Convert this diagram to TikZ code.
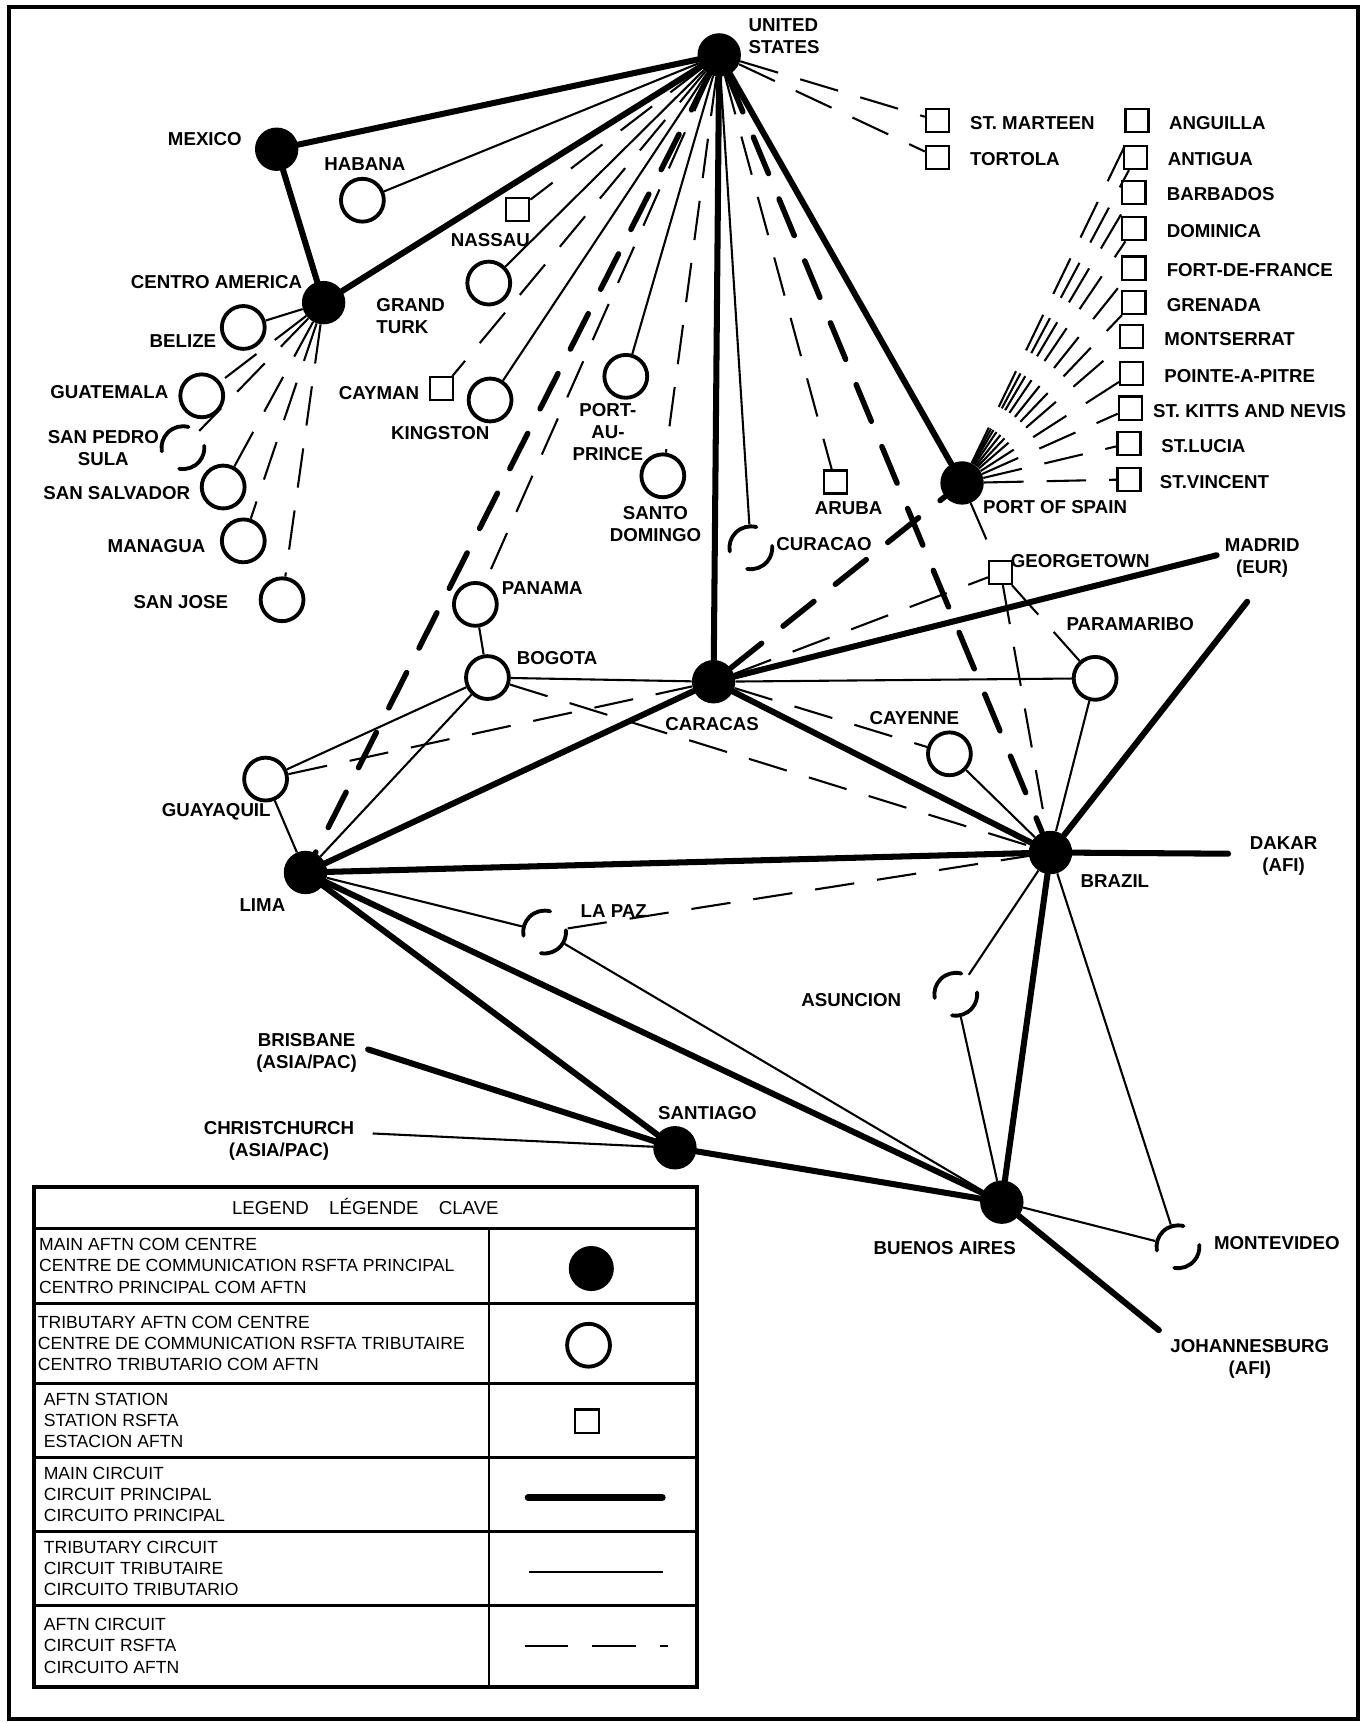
\documentclass[tikz,border=0pt]{standalone}
\usepackage{fontspec}
\setmainfont{Liberation Sans}
\usepackage{tikz}
\usetikzlibrary{calc,positioning}

\begin{document}
\begin{tikzpicture}[x=1pt, y=-1pt, lbl/.style={inner sep=0pt, font=\fontsize{17}{20}\selectfont\bfseries}, key/.style={inner sep=0pt, anchor=west, align=left, font=\fontsize{16}{19.2}\selectfont}]
\tikzstyle{mctr}=[circle, fill, inner sep=0pt, minimum size=39.5pt]
\tikzstyle{tctr}=[circle, draw, line width=3.5pt, inner sep=0pt, minimum size=39pt]
\tikzstyle{pctr}=[circle, inner sep=0pt, outer sep=1.75pt, minimum size=39pt]
\tikzstyle{stn}=[rectangle, draw, line width=2pt, inner sep=0pt, minimum size=21pt]
\tikzstyle{mline}=[line width=5.5pt, line cap=round]
\tikzstyle{tline}=[line width=1.9pt]
\tikzstyle{aline}=[line width=1.9pt, dash pattern=on 36pt off 21pt]
\tikzstyle{maline}=[line width=5pt, line cap=round, dash pattern=on 36pt off 25pt]
\useasboundingbox (0,0) rectangle (1241,1568);
\draw[line width=3.6pt] (8.5,6.5) rectangle (1236,1564.5);

\node[mctr] (us) at (654.5,50) {};
\node[mctr] (mex) at (251.8,135.8) {};
\node[mctr] (cam) at (294.5,275.4) {};
\node[mctr] (lima) at (278,794) {};
\node[mctr] (ccs) at (649.4,620.4) {};
\node[mctr] (bra) at (956,775.8) {};
\node[mctr] (scl) at (614.2,1044.5) {};
\node[mctr] (bue) at (911.7,1094) {};
\node[mctr] (pos) at (875.5,439.5) {};

\node[tctr] (hav) at (329.8,182.2) {};
\node[tctr] (gtk) at (444.8,257.6) {};
\node[tctr] (bze) at (221.4,298) {};
\node[tctr] (gua) at (183.6,360.2) {};
\node[tctr] (sal) at (203.1,443.2) {};
\node[tctr] (mga) at (221.4,492.2) {};
\node[tctr] (sjo) at (256.7,545.8) {};
\node[tctr] (kin) at (446,364) {};
\node[tctr] (pap) at (569.5,342.5) {};
\node[tctr] (sdo) at (603.2,433) {};
\node[tctr] (pty) at (432.6,550) {};
\node[tctr] (bog) at (443.6,616.6) {};
\node[tctr] (gye) at (241.7,709) {};
\node[tctr] (pbm) at (996.6,617.3) {};
\node[tctr] (cye) at (864,686) {};

\node[pctr] (sps) at (166.5,407.4) {};
\node[pctr] (lpz) at (495.6,848.2) {};
\node[pctr] (cur) at (683.3,498.5) {};
\node[pctr] (asu) at (869.8,904.8) {};
\node[pctr] (mvd) at (1072,1134.6) {};

\node[stn] (nas) at (471.2,190.5) {};
\node[stn] (cym) at (402.1,353.8) {};
\node[stn] (aua) at (760,438.6) {};
\node[stn] (geo) at (910.6,521) {};
\node[stn] (sxm) at (853.2,109.7) {};
\node[stn] (tor) at (853.2,143.3) {};
\node[stn] (axa) at (1034.7,109.7) {};
\node[stn] (ant) at (1033.5,143.3) {};
\node[stn] (bgi) at (1031.9,175.4) {};
\node[stn] (dom) at (1031.9,208.2) {};
\node[stn] (fdf) at (1031.9,244) {};
\node[stn] (gnd) at (1031.9,275.3) {};
\node[stn] (msr) at (1029.8,306.2) {};
\node[stn] (ptp) at (1029.8,340.2) {};
\node[stn] (skb) at (1028.6,371.4) {};
\node[stn] (slu) at (1027.4,403.5) {};
\node[stn] (svd) at (1027.4,436.3) {};

\coordinate (madA) at (1107.2,505.3);
\coordinate (madB) at (1135,547.6);
\coordinate (dkr) at (1117.6,776.9);
\coordinate (jnb) at (1054.6,1210.5);
\coordinate (bne) at (335,955);
\coordinate (chc) at (339.2,1031.5);

\foreach \i/\j in {us/mex,us/cam,mex/cam,us/ccs,us/pos,lima/ccs,lima/bra,lima/scl,lima/bue,ccs/bra,ccs/madA,bra/madB,bra/dkr,bra/bue,scl/bue,scl/bne,bue/jnb}{\draw[mline] (\i) -- (\j);}
\foreach \i/\j in {us/lima,us/bra,ccs/pos}{\draw[maline] (\i) -- (\j);}
\foreach \i/\j in {us/hav,us/gtk,us/kin,us/pap,us/cur,cam/bze,pty/bog,bog/gye,bog/lima,bog/ccs,gye/lima,lima/lpz,lpz/bue,ccs/pbm,cye/bra,pbm/bra,bra/asu,bra/mvd,asu/bue,bue/mvd,scl/chc}{\draw[tline] (\i) -- (\j);}
\foreach \i/\j in {us/nas,us/cym,us/pty,us/sdo,us/aua,us/sxm,us/tor,cam/gua,cam/sps,cam/sal,cam/mga,cam/sjo,gye/ccs,bog/bra,ccs/cye,ccs/geo,lpz/bra,pos/geo,geo/bra,geo/pbm}{\draw[aline] (\i) -- (\j);}
\foreach \j in {axa,ant,bgi,dom,fdf,gnd,msr,ptp,skb,slu,svd}{\draw[aline] (pos) -- (\j);}

\foreach \n in {sps,lpz,cur,asu,mvd}{
\begin{scope}[shift={(\n)}, x=1pt, y=1pt]
\draw[line width=3.5pt, line cap=round] (75:19.5) arc (75:190:19.5);
\draw[line width=3.5pt, line cap=round] (260:19.5) arc (260:365:19.5);
\end{scope}
}

\node[lbl, anchor=west, align=left] (usl) at (681,33) {UNITED\\STATES};
\node[lbl] (mexl) at (186.4,126.8) {MEXICO};
\node[lbl] (havl) at (332,149) {HABANA};
\node[lbl] (caml) at (197,256.5) {CENTRO AMERICA};
\node[lbl] (nasl) at (446.2,218.8) {NASSAU};
\node[lbl, anchor=west, align=left] (gtkl) at (342.4,287.2) {GRAND\\TURK};
\node[lbl] (bzel) at (166.5,310.2) {BELIZE};
\node[lbl] (gual) at (99.5,356.5) {GUATEMALA};
\node[lbl, align=center] (spsl) at (94,407.4) {SAN PEDRO\\SULA};
\node[lbl] (sall) at (106.2,449.1) {SAN SALVADOR};
\node[lbl] (mgal) at (142.4,497.2) {MANAGUA};
\node[lbl] (sjol) at (164.5,547.9) {SAN JOSE};
\node[lbl] (cyml) at (344.9,357.6) {CAYMAN};
\node[lbl] (kinl) at (400.7,394) {KINGSTON};
\node[lbl, align=center] (papl) at (553.2,393.2) {PORT-\\AU-\\PRINCE};
\node[lbl, align=center] (sdol) at (596.5,476.6) {SANTO\\DOMINGO};
\node[lbl] (ptyl) at (493.5,535.4) {PANAMA};
\node[lbl] (bogl) at (507,598.5) {BOGOTA};
\node[lbl] (gyel) at (196.8,739) {GUAYAQUIL};
\node[lbl] (limal) at (238.8,824) {LIMA};
\node[lbl] (lpzl) at (558.5,829.5) {LA PAZ};
\node[lbl, align=center] (bnel) at (279,957.8) {BRISBANE\\(ASIA/PAC)};
\node[lbl, align=center] (chcl) at (253.9,1038) {CHRISTCHURCH\\(ASIA/PAC)};
\node[lbl, anchor=west] (sxml) at (882.6,112.2) {ST. MARTEEN};
\node[lbl, anchor=west] (torl) at (882.6,145.2) {TORTOLA};
\node[lbl, anchor=west] (axal) at (1063.7,112.2) {ANGUILLA};
\node[lbl, anchor=west] (antl) at (1062.5,145) {ANTIGUA};
\node[lbl, anchor=west] (bgil) at (1061.6,177) {BARBADOS};
\node[lbl, anchor=west] (doml) at (1061.6,210.2) {DOMINICA};
\node[lbl, anchor=west] (fdfl) at (1061.6,245.7) {FORT-DE-FRANCE};
\node[lbl, anchor=west] (gndl) at (1061.6,277.7) {GRENADA};
\node[lbl, anchor=west] (msrl) at (1059.5,308.8) {MONTSERRAT};
\node[lbl, anchor=west] (ptpl) at (1059.5,342.2) {POINTE-A-PITRE};
\node[lbl, anchor=west] (skbl) at (1049.2,374.3) {ST. KITTS AND NEVIS};
\node[lbl, anchor=west] (slul) at (1056.7,406.3) {ST.LUCIA};
\node[lbl, anchor=west] (svdl) at (1055.4,438.8) {ST.VINCENT};
\node[lbl] (aual) at (772.2,462.1) {ARUBA};
\node[lbl] (posl) at (960.1,461.4) {PORT OF SPAIN};
\node[lbl] (curl) at (749.9,495.3) {CURACAO};
\node[lbl] (geol) at (983,510.4) {GEORGETOWN};
\node[lbl, align=center] (madl) at (1148.6,507.6) {MADRID\\(EUR)};
\node[lbl] (pbml) at (1028.5,568.3) {PARAMARIBO};
\node[lbl] (ccsl) at (648,658.8) {CARACAS};
\node[lbl] (cyel) at (832.1,653.2) {CAYENNE};
\node[lbl, align=center] (dkrl) at (1168.1,779) {DAKAR\\(AFI)};
\node[lbl] (bral) at (1014.6,802.2) {BRAZIL};
\node[lbl] (asul) at (774.7,910.4) {ASUNCION};
\node[lbl] (scll) at (643.8,1012.6) {SANTIAGO};
\node[lbl] (buel) at (859.8,1135.8) {BUENOS AIRES};
\node[lbl] (mvdl) at (1162,1131.5) {MONTEVIDEO};
\node[lbl, align=center] (jnbl) at (1137.4,1236.7) {JOHANNESBURG\\(AFI)};

\draw[line width=3.5pt] (31,1080.5) rectangle (634,1535);
\foreach \y in {1118,1186,1259,1326.6,1393.8,1461.3}{\draw[line width=2.4pt] (31,\y) -- (634,\y);}
\draw[line width=2.4pt] (445,1118) -- (445,1535);
\node[key, anchor=base, font=\fontsize{17}{20}\selectfont] (keyhead) at (332.5,1105.2) {LEGEND\hspace{18.5pt}LÉGENDE\hspace{18.5pt}CLAVE};
\node[key] (key1) at (35.5,1152) {MAIN AFTN COM CENTRE\\CENTRE DE COMMUNICATION RSFTA PRINCIPAL\\CENTRO PRINCIPAL COM AFTN};
\node[key] (key2) at (34.3,1222.5) {TRIBUTARY AFTN COM CENTRE\\CENTRE DE COMMUNICATION RSFTA TRIBUTAIRE\\CENTRO TRIBUTARIO COM AFTN};
\node[key] (key3) at (39.7,1293) {AFTN STATION\\STATION RSFTA\\ESTACION AFTN};
\node[key] (key4) at (39.7,1359.8) {MAIN CIRCUIT\\CIRCUIT PRINCIPAL\\CIRCUITO PRINCIPAL};
\node[key] (key5) at (39.7,1427.4) {TRIBUTARY CIRCUIT\\CIRCUIT TRIBUTAIRE\\CIRCUITO TRIBUTARIO};
\node[key] (key6) at (39.7,1497.8) {AFTN CIRCUIT\\CIRCUIT RSFTA\\CIRCUITO AFTN};
\node[mctr, minimum size=41pt] (keym) at (538.1,1154.4) {};
\node[tctr] (keyt) at (535.6,1224.2) {};
\node[stn, minimum size=21.5pt] (keys) at (534,1293.4) {};
\coordinate (km1) at (480.5,1362.8);
\coordinate (km2) at (602.8,1362.8);
\draw[mline, line width=6pt] (km1) -- (km2);
\coordinate (kt1) at (481.7,1430.3);
\coordinate (kt2) at (603.7,1430.3);
\draw[tline] (kt1) -- (kt2);
\coordinate (ka1) at (477.5,1497.5);
\coordinate (ka2) at (608,1497.5);
\draw[tline, dash pattern=on 39.7pt off 21.8pt] (ka1) -- (ka2);
\end{tikzpicture}
\end{document}
